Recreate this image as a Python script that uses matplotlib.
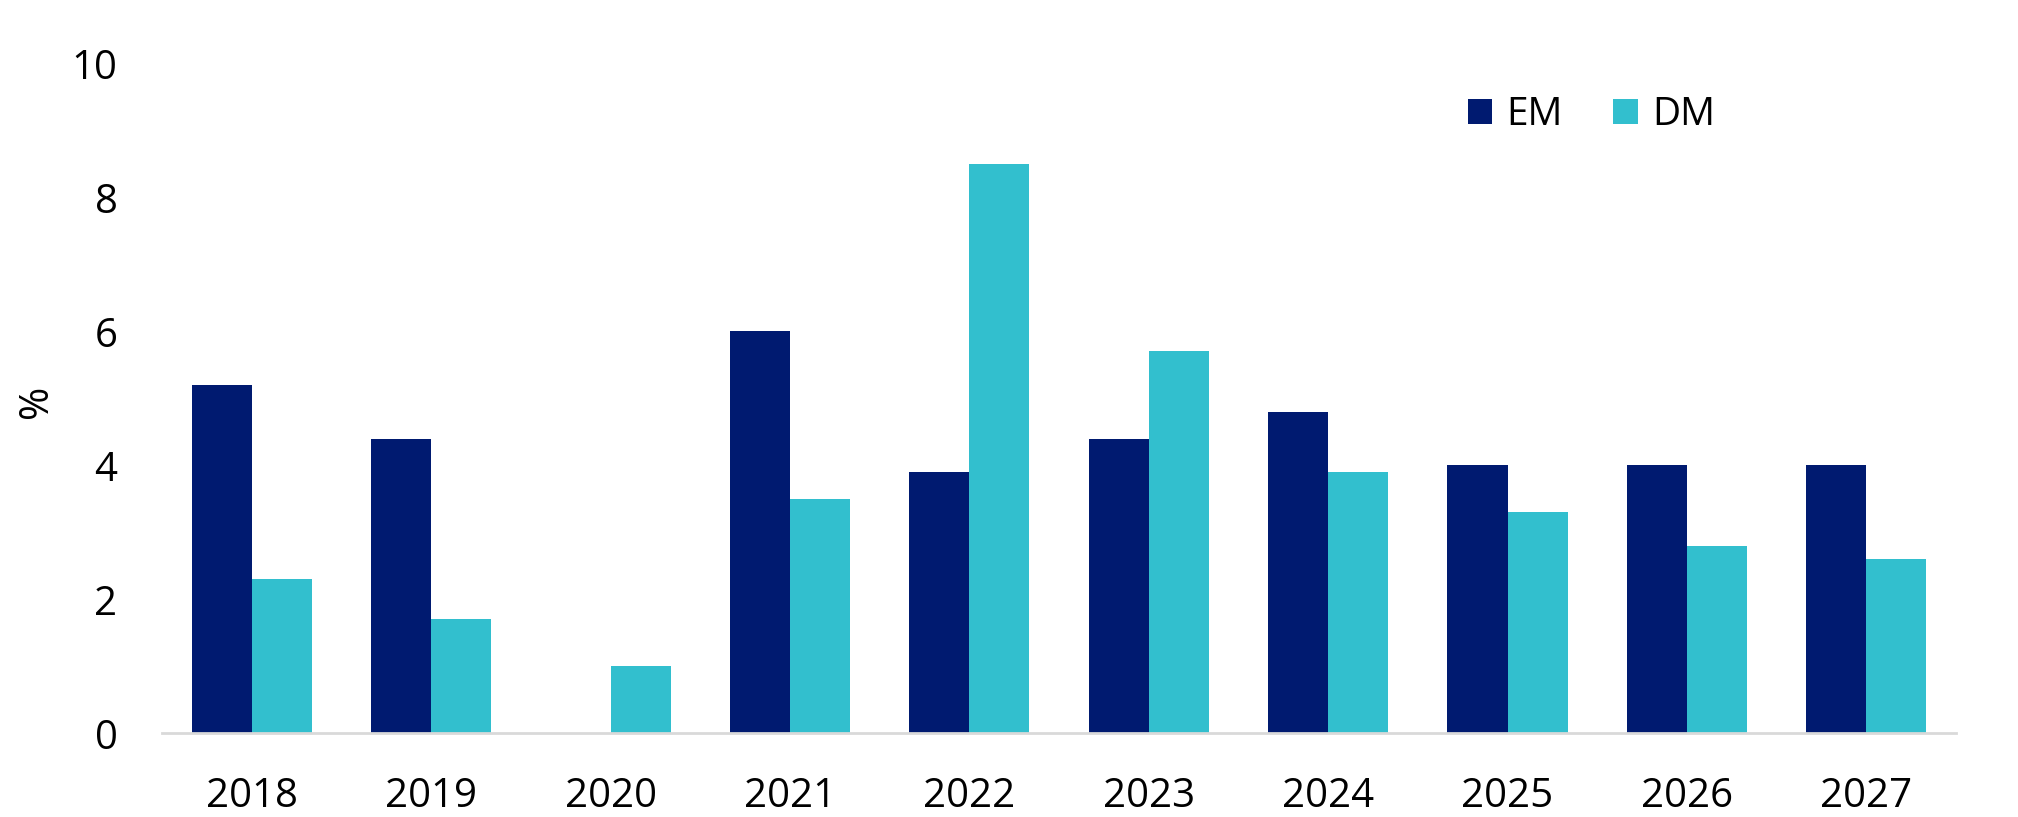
import matplotlib.pyplot as plt
import numpy as np

plt.rcParams['font.family'] = ['Open Sans', 'DejaVu Sans']

# dados
anos = ['2018', '2019', '2020', '2021', '2022', '2023', '2024', '2025', '2026', '2027']
em = [5.2, 4.4, 0.0, 6.0, 3.9, 4.4, 4.8, 4.0, 4.0, 4.0]
dm = [2.3, 1.7, 1.0, 3.5, 8.5, 5.7, 3.9, 3.3, 2.8, 2.6]

cor_em = '#001a70'
cor_dm = '#32bfce'

fig = plt.figure(figsize=(20.18, 8.17), dpi=100)
ax = fig.add_axes([0.0803, 0.1024, 0.889, 0.8201])

x = np.arange(len(anos))
w = 0.335
ax.bar(x - w / 2, em, width=w, color=cor_em, label='EM')
ax.bar(x + w / 2, dm, width=w, color=cor_dm, label='DM')

ax.set_xlim(-0.5, len(anos) - 0.5)
ax.set_ylim(0, 10)
ax.set_yticks([0, 2, 4, 6, 8, 10])
ax.set_xticks(x)
ax.set_xticklabels(anos)

for s in ['top', 'right', 'left']:
    ax.spines[s].set_visible(False)
ax.spines['bottom'].set_color('#d9d9d9')
ax.spines['bottom'].set_linewidth(2)

ax.tick_params(axis='both', length=0, labelsize=29, colors='black')
ax.tick_params(axis='y', pad=32)
ax.tick_params(axis='x', pad=31)

fig.text(36.7 / 2018, 1 - 401.7 / 817, '%', rotation=90, fontsize=29,
         ha='center', va='center')

ax.legend(loc='center left', bbox_to_anchor=(1468 / 2018, 1 - 115 / 817),
          bbox_transform=fig.transFigure, ncol=2, frameon=False,
          fontsize=28, handlelength=0.62, handleheight=0.62,
          handletextpad=0.37, columnspacing=1.3, borderpad=0,
          borderaxespad=0)

fig.savefig('out.png', dpi=100)
